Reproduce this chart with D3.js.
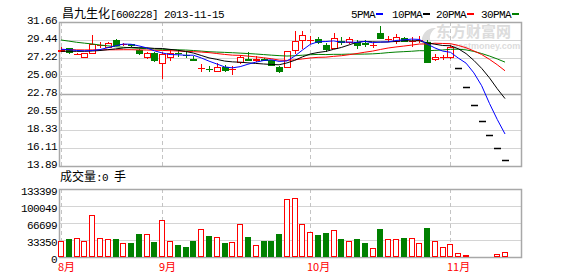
<!DOCTYPE html>
<html><head><meta charset="utf-8">
<script src="https://cdn.jsdelivr.net/npm/d3@7"></script>
<style>
body{margin:0;background:#fff;}
svg{display:block;}
.mono{font-family:"Liberation Mono","DejaVu Sans Mono",monospace;font-size:11px;letter-spacing:-0.6px;}
.cjk{font-family:"Noto Sans CJK SC",sans-serif;}
</style>
</head><body>
<svg id="c" width="578" height="276"></svg>
<script>
// ---------------- data ----------------
const dates = ["2013-08-14","2013-08-15","2013-08-16","2013-08-19","2013-08-20","2013-08-21","2013-08-22","2013-08-23","2013-08-26","2013-08-27","2013-08-28","2013-08-29","2013-08-30",
"2013-09-02","2013-09-03","2013-09-04","2013-09-05","2013-09-06","2013-09-09","2013-09-10","2013-09-11","2013-09-12","2013-09-13","2013-09-16","2013-09-17","2013-09-18","2013-09-23","2013-09-24","2013-09-25","2013-09-26","2013-09-27","2013-09-30",
"2013-10-08","2013-10-09","2013-10-10","2013-10-11","2013-10-14","2013-10-15","2013-10-16","2013-10-17","2013-10-18","2013-10-21","2013-10-22","2013-10-23","2013-10-24","2013-10-25","2013-10-28","2013-10-29","2013-10-30","2013-10-31",
"2013-11-01","2013-11-04","2013-11-05","2013-11-06","2013-11-07","2013-11-08","2013-11-11","2013-11-12"];
const openP  = [28.05,28.40,27.65,27.38,27.87,28.82,28.62,29.44,28.90,28.90,28.20,27.30,27.80,26.56,27.38,27.85,27.62,27.15,25.95,25.85,25.65,26.05,25.85,26.72,27.10,27.00,27.10,26.93,26.11,26.07,28.20,29.44,29.40,29.56,28.86,28.45,29.30,29.15,29.23,29.03,28.80,30.26,29.53,29.35,29.69,29.30,29.45,29.20,27.06,27.34,27.30,25.95,23.60,21.38,19.48,17.68,16.07,14.59];
const highP  = [28.55,28.45,27.85,27.83,30.06,29.15,29.20,29.55,29.10,29.00,28.30,27.95,27.95,28.00,28.20,28.15,28.00,27.45,26.48,26.20,26.60,26.30,26.27,27.55,27.92,27.42,27.25,27.00,26.25,28.12,30.59,30.59,29.97,29.80,29.10,30.26,29.85,29.85,29.44,29.44,29.15,31.20,29.97,30.18,29.85,29.77,29.97,29.40,27.71,27.62,28.86,25.95,23.60,21.38,19.48,17.68,16.07,14.59];
const lowP   = [27.95,27.70,27.58,27.18,27.80,28.50,28.55,28.70,28.70,28.60,27.55,27.05,26.72,24.59,26.90,27.30,27.22,26.80,25.45,25.45,25.57,25.55,25.15,26.50,26.80,26.68,26.80,26.30,25.40,25.98,27.71,28.33,28.95,28.95,28.00,28.33,28.86,28.95,28.33,28.54,28.45,29.56,29.15,28.95,29.15,28.62,29.07,26.70,26.85,26.97,27.09,25.95,23.60,21.38,19.48,17.68,16.07,14.59];
const closeP = [28.25,27.98,27.70,27.80,28.95,28.88,29.10,28.82,28.97,28.80,27.87,27.87,26.97,27.67,27.80,27.80,27.58,26.97,26.00,25.80,26.07,25.76,25.90,27.30,27.03,27.06,26.93,26.39,25.58,28.05,29.28,30.06,29.44,29.15,28.33,29.69,29.24,29.56,28.86,28.99,28.86,29.69,29.59,29.77,29.35,29.35,29.50,26.75,27.38,27.38,28.61,25.95,23.60,21.38,19.48,17.68,16.07,14.59];
const volume = [31536,35478,36792,31536,82125,36792,34821,35478,26937,27594,45333,44676,29565,72270,30879,23652,19710,31536,54531,41391,38763,27594,28908,64386,39420,22995,31536,31536,45333,113661,115632,64386,48618,43362,47304,53217,35478,31536,35478,27594,17739,55188,35478,35478,37449,37449,27594,57159,31536,19710,25623,7227,3942,2000,2000,2000,5913,9855];
const ma5  = [28.30,28.25,28.15,28.10,28.14,28.26,28.49,28.71,28.94,28.91,28.71,28.47,28.10,27.84,27.64,27.62,27.56,27.56,27.23,26.83,26.48,26.12,26.00,26.15,26.45,26.70,26.90,27.00,26.80,26.85,27.45,28.20,28.90,29.22,29.25,29.33,29.17,29.19,29.14,29.27,29.10,29.19,29.20,29.38,29.45,29.55,29.51,28.94,28.46,28.07,27.92,27.21,26.58,25.38,23.80,21.62,19.64,17.84];
const ma10 = [28.05,28.05,28.04,28.04,28.08,28.14,28.24,28.34,28.45,28.53,28.49,28.48,28.40,28.39,28.28,28.17,28.02,27.83,27.53,27.23,27.05,26.84,26.74,26.70,26.62,26.55,26.48,26.42,26.38,26.61,26.93,27.36,27.71,27.90,28.03,28.29,28.52,28.84,29.17,29.26,29.22,29.18,29.20,29.26,29.36,29.33,29.35,29.07,28.92,28.76,28.73,28.36,27.76,26.92,25.94,24.77,23.43,22.21];
const ma20 = [28.25,28.24,28.22,28.21,28.22,28.22,28.23,28.23,28.24,28.24,28.22,28.20,28.17,28.15,28.12,28.08,28.04,28.00,27.95,27.88,27.77,27.66,27.57,27.54,27.45,27.36,27.25,27.13,26.96,26.92,26.99,27.10,27.22,27.30,27.32,27.42,27.50,27.63,27.77,27.93,28.07,28.27,28.45,28.58,28.69,28.81,28.94,28.95,29.04,29.01,28.98,28.77,28.48,28.09,27.65,27.05,26.39,25.64];
const ma30 = [29.44,29.30,29.16,29.05,28.95,28.82,28.72,28.61,28.54,28.47,28.41,28.37,28.33,28.29,28.26,28.23,28.20,28.14,28.07,27.99,27.95,27.91,27.87,27.82,27.77,27.71,27.64,27.57,27.51,27.46,27.49,27.56,27.62,27.66,27.64,27.67,27.67,27.70,27.69,27.70,27.73,27.79,27.88,27.95,28.00,28.05,28.12,28.11,28.16,28.21,28.29,28.30,28.22,28.03,27.77,27.46,27.10,26.71];
const priceTicks  = [31.66,29.44,27.22,25.00,22.78,20.55,18.33,16.11,13.89];
const volumeTicks = [133399,100049,66699,33350,0];
const monthLabels = ["8月","9月","10月","11月"];
const maNames  = ["5PMA","10PMA","20PMA","30PMA"];
const maColors = ["#0000ff","#000000","#ff0000","#008000"];
const titleName = "昌九生化", titleCode = "[600228] 2013-11-15";

// ---------------- layout ----------------
const L = 59, R = 522, PT = 22, PB = 166, VT = 189, VB = 257;
const RED = "#ff0000", GREEN = "#008000";
const svg = d3.select("#c");
svg.append("rect").attr("width",578).attr("height",276).attr("fill","#fff");

const x = d3.scaleLinear().domain([0, 59]).range([61, 520.6]);
const y = d3.scaleLinear().domain([13.89, 31.66]).range([PB, PT]);
const yv = d3.scaleLinear().domain([0, 133399]).range([VB, VT]);
const cx = i => Math.round(x(i));

// watermark
const wm = svg.append("g").attr("fill","#dcdcdc");
wm.append("text").attr("x",436).attr("y",37).attr("class","cjk").attr("font-size",15).attr("font-weight","bold").text("东方财富网");
wm.append("text").attr("x",453).attr("y",49).attr("font-family","Liberation Sans, Arial").attr("font-size",9).attr("font-weight","bold").text("eastmoney.com");
wm.append("path").attr("d","M422,44 C420,34 428,27 436,28 C430,32 428,38 432,44 Z");

// grids
const gridG = svg.append("g");
priceTicks.forEach((t,k) => {
  if (k===0 || k===priceTicks.length-1) return;
  const yy = Math.round(y(t)) + 0.5;
  gridG.append("line").attr("x1",L).attr("x2",R).attr("y1",yy).attr("y2",yy)
    .attr("stroke", k===4 ? "#a8a8a8" : "#d4d4d4").attr("stroke-width", k===4 ? 1.5 : 1);
});
volumeTicks.forEach((t,k) => {
  if (k===0 || k===volumeTicks.length-1) return;
  const yy = Math.round(yv(t)) + 0.5;
  gridG.append("line").attr("x1",L).attr("x2",R).attr("y1",yy).attr("y2",yy).attr("stroke","#d4d4d4");
});

// month boundaries
const monthStarts = [];
dates.forEach((d,i) => { if (i===0 || d.slice(5,7)!==dates[i-1].slice(5,7)) monthStarts.push(i); });
monthStarts.forEach((i,k) => {
  const xx = cx(i) + 0.5;
  [[PT,PB],[VT,VB]].forEach(([a,b]) => gridG.append("line").attr("x1",xx).attr("x2",xx).attr("y1",a).attr("y2",b)
     .attr("stroke","#c4c4c4").attr("stroke-dasharray","4,3"));
  svg.append("text").attr("x", cx(i)-3).attr("y",271).attr("fill",RED)
    .attr("class","cjk").attr("font-size",11).text(monthLabels[k]);
});

// borders
[[PT,PB],[VT,VB]].forEach(([a,b]) => {
  svg.append("rect").attr("x",L+0.5).attr("y",a+0.5).attr("width",R-L-1).attr("height",b-a)
    .attr("fill","none").attr("stroke","#a8a8a8").attr("stroke-width",1.5);
});

// axis labels
const axG = svg.append("g").attr("class","mono").attr("fill","#000").attr("text-anchor","end");
priceTicks.forEach(t => axG.append("text").attr("x",57).attr("y",y(t)-1.5).attr("dy","0.35em").text(t.toFixed(2)));
volumeTicks.forEach(t => axG.append("text").attr("x",57).attr("y",yv(t)+2).attr("dy","0.35em").text(t));

// candles
const cg = svg.append("g");
dates.forEach((d,i) => {
  const o=openP[i], h=highP[i], l=lowP[i], c=closeP[i];
  const xc = cx(i);
  if (h===l) {
    cg.append("line").attr("x1",xc-3).attr("x2",xc+4).attr("y1",Math.round(y(c))+0.5).attr("y2",Math.round(y(c))+0.5)
      .attr("stroke","#000").attr("stroke-width",1.5);
    return;
  }
  const up = c >= o, col = up ? RED : GREEN;
  cg.append("line").attr("x1",xc+0.5).attr("x2",xc+0.5).attr("y1",Math.round(y(h))).attr("y2",Math.round(y(l)))
    .attr("stroke",col);
  const yTop = Math.round(y(Math.max(o,c))), yBot = Math.round(y(Math.min(o,c)));
  if (yBot - yTop < 1) {
    cg.append("line").attr("x1",xc-3).attr("x2",xc+4).attr("y1",yTop+0.5).attr("y2",yTop+0.5).attr("stroke",col);
  } else {
    cg.append("rect").attr("x",xc-2.5).attr("y",yTop+0.5).attr("width",6).attr("height",yBot-yTop)
      .attr("fill", up ? "#fff" : GREEN).attr("stroke",col);
  }
});

// moving averages
const line = d3.line().x((v,i)=>x(i)).y(v=>y(v));
[ma30, ma20, ma10, ma5].forEach((arr,k) => {
  const idx = 3-k;
  svg.append("path").attr("d", line(arr)).attr("fill","none").attr("stroke", maColors[idx]).attr("stroke-width",1);
});

// volume bars
const vg = svg.append("g");
volume.forEach((v,i) => {
  const up = closeP[i] >= openP[i];
  const xc = cx(i);
  const top = Math.round(yv(v));
  vg.append("rect").attr("x",xc-2.5).attr("y",top+0.5).attr("width",5).attr("height",Math.max(0,VB-top-1))
    .attr("fill", up ? "#fff" : GREEN).attr("stroke", up ? RED : GREEN);
});

// title
const tt = svg.append("text").attr("x",62).attr("y",18).attr("fill","#000");
tt.append("tspan").attr("class","cjk").attr("font-size",12).text(titleName);
tt.append("tspan").attr("class","mono").attr("font-size",11).text(titleCode);

// legend
const legX = [351, 392, 436, 481];
maNames.forEach((n,k) => {
  svg.append("text").attr("class","mono").attr("x",legX[k]).attr("y",18).attr("fill","#000").text(n);
  const w = n.length*6;
  svg.append("rect").attr("x",legX[k]+w+1).attr("y",13).attr("width",7).attr("height",2).attr("fill",maColors[k]);
});

// volume caption
const vc = svg.append("text").attr("x",60).attr("y",181).attr("fill","#000");
vc.append("tspan").attr("class","cjk").attr("font-size",12).text("成交量");
vc.append("tspan").attr("class","mono").attr("font-size",11).text(":0 ");
vc.append("tspan").attr("class","cjk").attr("font-size",12).text("手");
</script>
</body></html>
